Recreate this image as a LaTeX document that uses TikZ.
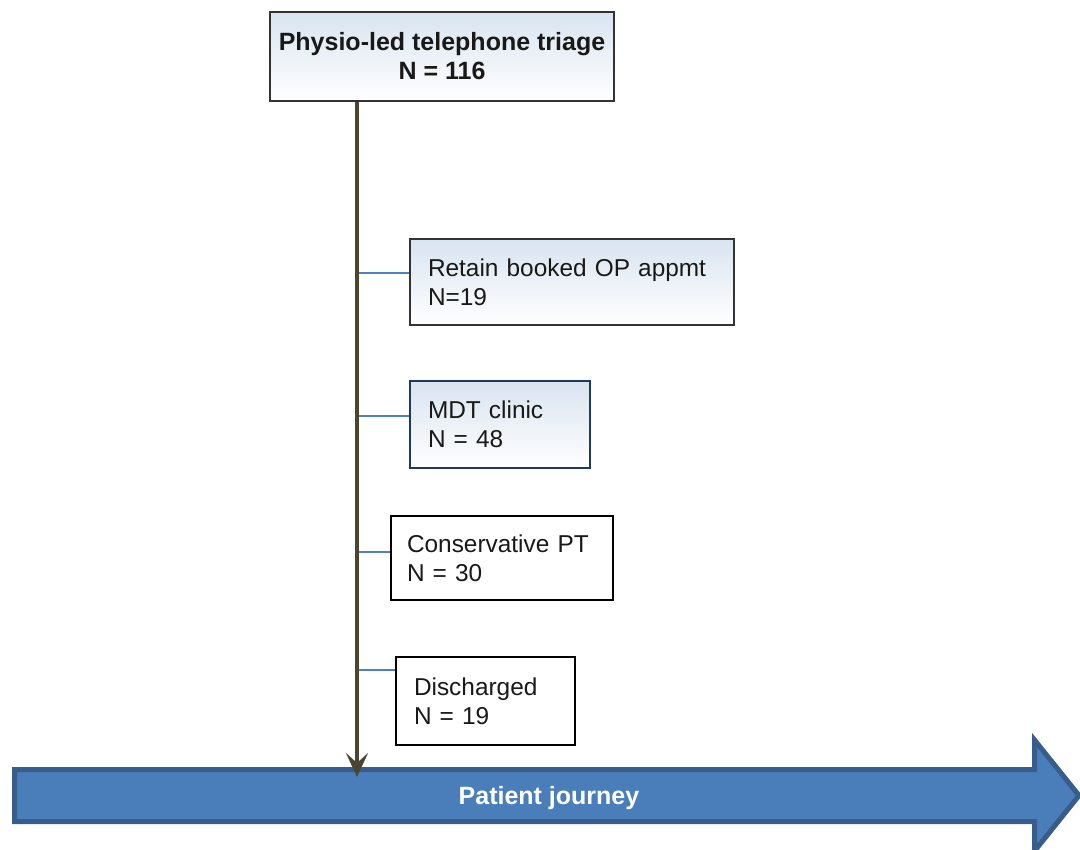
\documentclass[tikz,border=0pt]{standalone}
\usepackage{fontspec}
\setmainfont{Liberation Sans}
\usetikzlibrary{arrows.meta,calc}

\definecolor{paleblue}{HTML}{D9E4F0}
\definecolor{trunkcol}{HTML}{4B4631}
\definecolor{linkblue}{HTML}{4F81BD}
\definecolor{journeyfill}{HTML}{4A7EBB}
\definecolor{journeyedge}{HTML}{385D8A}
\definecolor{mdtedge}{HTML}{1F3A60}
\newcommand\diagfont{\fontsize{12.2}{14.5}\selectfont}
\newcommand\headfont{\bfseries\fontsize{12.5}{14.5}\selectfont}

\begin{document}
\begin{tikzpicture}
	[x=0.5pt,y=-0.5pt,
	every node/.style={font=\diagfont,text=black!90},
	box/.style={draw=#1,line width=1pt,anchor=north west,align=left,inner xsep=9pt,inner ysep=0pt},
	box/.default=black,
	paleshade/.style={top color=paleblue,bottom color=white},
	branch/.style={draw=linkblue,line width=0.8pt},
	trunk/.style={draw=trunkcol,line width=2pt,-{Stealth[length=12pt,width=11pt,inset=5pt]}}]
	\useasboundingbox (0,0) rectangle (1080,850);
	% patient journey band
	\draw[draw=journeyedge,fill=journeyfill,line width=2.5pt] (14.5,769.5) -- (1034.5,769.5) -- (1034.5,740)
		-- (1079,795.5) -- (1034.5,851) -- (1034.5,821.5) -- (14.5,821.5) -- cycle;
	\node[font=\headfont,text=white] (journey) at (549,798) {Patient journey};
	% boxes
	\node[box=black!80,paleshade,align=center,inner xsep=2pt,font=\headfont,
		minimum width=172pt,minimum height=44.5pt] (triage) at (269,11) {Physio-led telephone triage\\N = 116};
	\node[box=black!80,paleshade,text width=144pt,minimum height=43pt] (retain) at (409,238)
		{Retain booked OP appmt\\N=19};
	\node[box=mdtedge,paleshade,text width=72pt,minimum height=43.5pt] (mdt) at (409,380)
		{MDT clinic\\N = 48};
	\node[box,fill=white,inner xsep=8pt,text width=95pt,minimum height=42pt] (conserv) at (390,515)
		{Conservative PT\\N = 30};
	\node[box,fill=white,text width=71.5pt,minimum height=44pt] (disch) at (395,656)
		{Discharged\\N = 19};
	% links
	\coordinate (trunkend) at (357,777);
	\foreach \n/\dy in {retain/17.5,mdt/18,conserv/18.5,disch/7}
		\draw[branch] ([yshift=-\dy pt]\n.north west) coordinate (\n-b) -- (\n-b -| trunkend);
	\draw[trunk] (triage.south -| trunkend) -- (trunkend);
\end{tikzpicture}
\end{document}
